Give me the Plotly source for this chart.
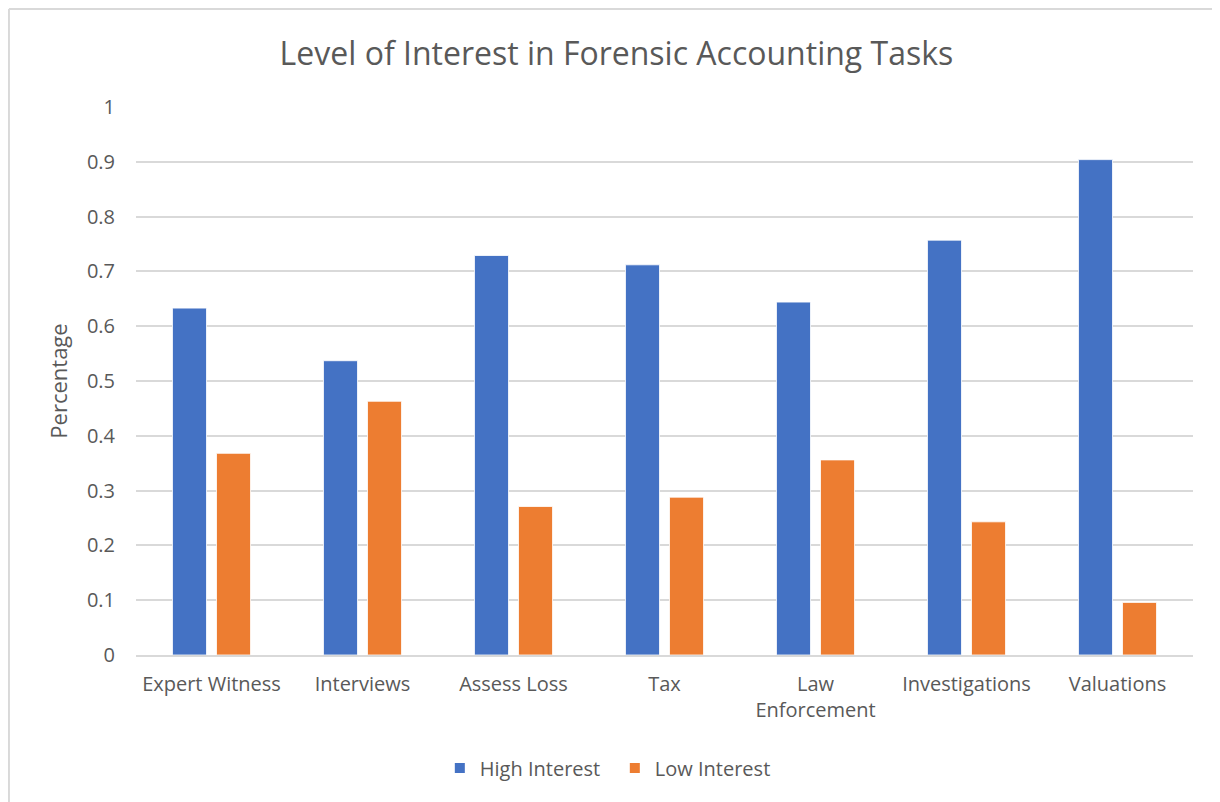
import plotly.graph_objects as go

# ---- data ----
tasks = ["Expert Witness", "Interviews", "Assess Loss", "Tax",
         "Law<br>Enforcement", "Investigations", "Valuations"]
high_interest = [0.633, 0.537, 0.729, 0.712, 0.644, 0.757, 0.904]
low_interest = [0.368, 0.463, 0.271, 0.288, 0.356, 0.243, 0.096]
y_ticks = [0, 0.1, 0.2, 0.3, 0.4, 0.5, 0.6, 0.7, 0.8, 0.9, 1]
y_tick_labels = ["0", "0.1", "0.2", "0.3", "0.4", "0.5", "0.6", "0.7", "0.8", "0.9", "1"]

blue = "#4472C4"
orange = "#ED7D31"
text_grey = "#595959"
font_family = "Open Sans"

fig = go.Figure()
fig.add_trace(go.Bar(x=tasks, y=high_interest, name="High Interest",
                     marker=dict(color=blue, line=dict(color="white", width=0.8))))
fig.add_trace(go.Bar(x=tasks, y=low_interest, name="Low Interest",
                     marker=dict(color=orange, line=dict(color="white", width=0.8))))

# page body has an 8px margin, so the figure is sized to fill the rest of the window
fig.update_layout(
    width=1212,
    height=794,
    margin=dict(l=128, r=27, t=99, b=147),
    paper_bgcolor="white",
    plot_bgcolor="white",
    barmode="group",
    bargap=0.417,
    bargroupgap=0.227,
    font=dict(family=font_family, color=text_grey, size=20),
    title=dict(text="Level of Interest in Forensic Accounting Tasks",
               x=0.502, xanchor="center", y=0.942, yanchor="middle",
               font=dict(size=32, color=text_grey, family=font_family)),
    legend=dict(orientation="h", x=0.453, xanchor="center", y=-0.206, yanchor="middle",
                font=dict(size=20, color=text_grey), traceorder="normal",
                itemsizing="constant", entrywidth=130),
    showlegend=True,
)

fig.update_yaxes(
    range=[0, 1],
    tickvals=y_ticks,
    ticktext=y_tick_labels,
    showgrid=True,
    gridcolor="#d9d9d9",
    gridwidth=1.5,
    zeroline=False,
    showline=False,
    ticks="",
    ticklabelstandoff=20,
    tickfont=dict(size=20, color=text_grey),
    title=dict(text="Percentage", standoff=13, font=dict(size=22, color=text_grey)),
)
fig.update_xaxes(
    showgrid=False,
    showline=True,
    linecolor="#d9d9d9",
    linewidth=1.5,
    ticks="",
    ticklabelstandoff=10,
    tickfont=dict(size=20, color=text_grey),
)

# light chart-area border: only the left and top edges fall inside the picture
fig.add_shape(type="line", xref="paper", yref="paper",
              x0=-0.1202, x1=-0.1202, y0=-0.4, y1=1.1788,
              line=dict(color="#d9d9d9", width=2), layer="below")
fig.add_shape(type="line", xref="paper", yref="paper",
              x0=-0.1202, x1=1.1, y0=1.1788, y1=1.1788,
              line=dict(color="#d9d9d9", width=2), layer="below")

fig.write_html("out.html")
